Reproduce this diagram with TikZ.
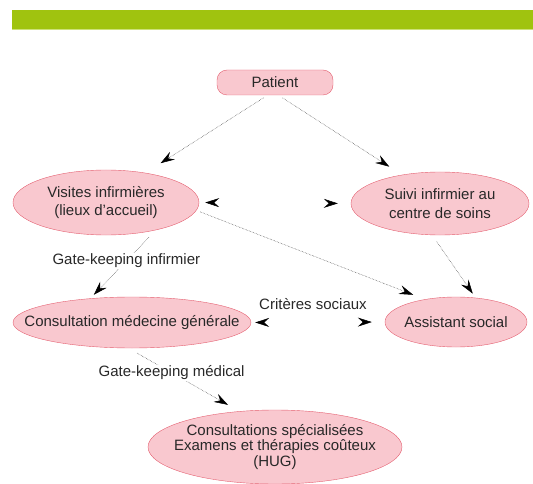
\documentclass[tikz,border=0pt]{standalone}
\usepackage{fontspec}
\setmainfont{Liberation Sans}
\usetikzlibrary{arrows.meta,shapes.geometric}
\definecolor{bar}{RGB}{160,195,15}
\definecolor{barlight}{RGB}{205,225,120}
\definecolor{bubfill}{RGB}{249,200,207}
\definecolor{bubline}{RGB}{228,95,112}
\definecolor{txt}{RGB}{40,40,40}

\begin{document}
\begin{tikzpicture}[
        x=1pt, y=-1pt,
        font=\fontsize{15}{18.5}\selectfont,
        >={Stealth[length=14pt, width=9pt, inset=5pt, color=black]},
        every label/.style={text=txt, align=center, inner sep=0pt},
        pill/.style={rectangle, rounded corners=10pt, draw=bubline, fill=bubfill,
                     minimum width=116pt, minimum height=25pt, text=txt, inner sep=0pt},
        bubble/.style={ellipse, draw=bubline, fill=bubfill, inner sep=0pt},
        arr/.style={->, black!75, densely dotted, line width=0.5pt},
        twoway/.style={<->, white, line width=0.5pt},
        gate/.style={fill=white, text=txt, inner sep=1pt}
      ]
        \useasboundingbox (0,0) rectangle (533,484);
        \fill[bar] (12,10) rectangle (533,29);
        \fill[barlight] (12,29) rectangle (533,30.5);

        \node[pill] (P) at (275,82.5) {Patient};
        \node[bubble, minimum width=186pt, minimum height=65pt,
              label=center:{Visites infirmières\\(lieux d'accueil)}] (V) at (106,202.5) {};
        \node[bubble, minimum width=178pt, minimum height=63pt,
              label=center:{Suivi infirmier au\\centre de soins}] (S) at (440,203.5) {};
        \node[bubble, minimum width=238pt, minimum height=51pt,
              label=center:{Consultation médecine générale}] (C) at (132,322.5) {};
        \node[bubble, minimum width=142pt, minimum height=50pt,
              label=center:{Assistant social}] (A) at (456,322) {};
        \node[bubble, minimum width=254pt, minimum height=74pt,
              label={[font=\fontsize{15}{15.5}\selectfont]center:{Consultations spécialisées\\Examens et thérapies coûteux\\(HUG)}}] (H) at (275,447) {};

        \draw[arr, shorten <=5pt, shorten >=18pt] (P.-120) -- (V.37);
        \draw[arr, shorten <=5pt, shorten >=15pt] (P.-75) -- (S.143);
        \draw[twoway, shorten <=6pt, shorten >=13pt] (V.0) -- (S.180);
        \draw[arr, shorten <=4pt, shorten >=12.5pt] (V.-5) -- (A.144);
        \draw[arr, shorten <=8pt, shorten >=5pt] (S.-104) -- (A.51);
        \draw[arr, shorten <=10pt, shorten >=5pt] (V.-29) --
          node[gate, pos=0.45] {Gate-keeping infirmier} (C.150);
        \draw[twoway, shorten <=4pt, shorten >=13pt] (C.0) --
          node[above=12pt, xshift=-5pt, text=txt, inner sep=0pt] {Critères sociaux} (A.180);
        \draw[arr, shorten <=10pt, shorten >=13pt] (C.-98) --
          node[gate, pos=0.39] {Gate-keeping médical} (H.135);
      \end{tikzpicture}
\end{document}
